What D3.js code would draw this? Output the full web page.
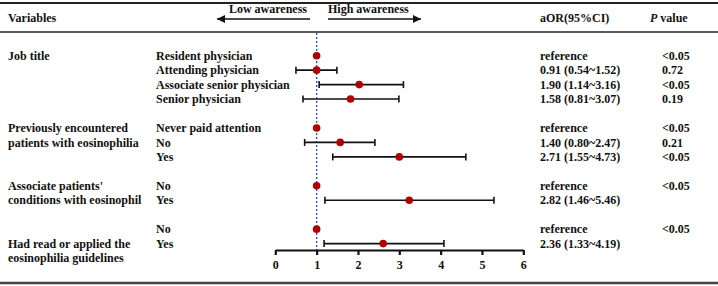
<!DOCTYPE html>
<html><head><meta charset="utf-8">
<script src="https://cdn.jsdelivr.net/npm/d3@7/dist/d3.min.js"></script>
<style>body{margin:0;background:#fff}svg text{font-family:"Liberation Serif","Times New Roman",serif;font-weight:bold;font-size:12px;fill:#111}</style>
</head><body><svg id="c" width="718" height="286"></svg>
<script>
// Data
const groupLabels = [
  {row:0, lines:["Job title"]},
  {row:5, lines:["Previously encountered","patients with eosinophilia"]},
  {row:9, lines:["Associate patients'","conditions with eosinophil"]},
  {row:13, lines:["Had read or applied the","eosinophilia guidelines"]}
];
const rowIndex = [0,1,2,3,5,6,7,9,10,12,13];
const subLabels = ["Resident physician","Attending physician","Associate senior physician","Senior physician",
  "Never paid attention","No","Yes","No","Yes","No","Yes"];
const estimate = [1.00,1.00,2.03,1.82,1.00,1.57,3.00,1.00,3.24,1.00,2.61];
const lower    = [null,0.50,1.06,0.67,null,0.71,1.39,null,1.20,null,1.18];
const upper    = [null,1.49,3.10,2.99,null,2.41,4.61,null,5.29,null,4.08];
const aorText = ["reference","0.91 (0.54~1.52)","1.90 (1.14~3.16)","1.58 (0.81~3.07)",
  "reference","1.40 (0.80~2.47)","2.71 (1.55~4.73)","reference","2.82 (1.46~5.46)","reference","2.36 (1.33~4.19)"];
const pText = ["<0.05","0.72","<0.05","0.19","<0.05","0.21","<0.05","<0.05","","<0.05",""];
const xTicks = [0,1,2,3,4,5,6];

const svg = d3.select("#c");
const x = d3.scaleLinear().domain([0,6]).range([275.3,523.3]);
const y = d3.scaleLinear().domain([0,13]).range([55.7,243.6]);
const axisY = 250;

// table lines
svg.append("line").attr("x1",0).attr("x2",718).attr("y1",3).attr("y2",3).attr("stroke","#222").attr("stroke-width",2);
svg.append("line").attr("x1",0).attr("x2",718).attr("y1",32).attr("y2",32).attr("stroke","#222").attr("stroke-width",1.5);
svg.append("line").attr("x1",0).attr("x2",718).attr("y1",283).attr("y2",283).attr("stroke","#444").attr("stroke-width",2.5);

// headers
const defs = svg.append("defs");
defs.append("marker").attr("id","ah").attr("viewBox","0 0 10 10").attr("refX",10).attr("refY",5)
  .attr("markerWidth",10).attr("markerHeight",8).attr("markerUnits","userSpaceOnUse").attr("orient","auto")
  .append("path").attr("d","M0,0L10,5L0,10Z").attr("fill","#111");
svg.append("text").attr("x",8).attr("y",22).text("Variables");
svg.append("text").attr("x",540).attr("y",22).text("aOR(95%CI)");
const ph = svg.append("text").attr("x",650).attr("y",22);
ph.append("tspan").attr("font-style","italic").text("P");
ph.append("tspan").text(" value");
svg.append("text").attr("x",307).attr("y",13).attr("text-anchor","end").text("Low awareness");
svg.append("text").attr("x",328).attr("y",13).text("High awareness");
svg.append("line").attr("x1",310).attr("x2",217).attr("y1",19).attr("y2",19).attr("stroke","#111").attr("stroke-width",1.5).attr("marker-end","url(#ah)");
svg.append("line").attr("x1",328).attr("x2",421).attr("y1",19).attr("y2",19).attr("stroke","#111").attr("stroke-width",1.5).attr("marker-end","url(#ah)");

// reference line
svg.append("line").attr("x1",x(1)).attr("x2",x(1)).attr("y1",33).attr("y2",axisY)
  .attr("stroke","#3344ee").attr("stroke-width",1.3).attr("stroke-dasharray","2,2");

// group labels
groupLabels.forEach(g=>{
  g.lines.forEach((l,i)=>{
    svg.append("text").attr("x",8).attr("y",y(g.row+i)).attr("dy","0.35em").text(l);
  });
});

const rows = rowIndex.map((r,i)=>({r, lab:subLabels[i], est:estimate[i], lo:lower[i], hi:upper[i], aor:aorText[i], p:pText[i]}));
const gr = svg.append("g");
gr.selectAll(".sub").data(rows).join("text").attr("x",156).attr("y",d=>y(d.r)).attr("dy","0.35em").text(d=>d.lab);
gr.selectAll(".aor").data(rows).join("text").attr("x",540).attr("y",d=>y(d.r)).attr("dy","0.35em").text(d=>d.aor);
gr.selectAll(".pv").data(rows).join("text").attr("x",662).attr("y",d=>y(d.r)).attr("dy","0.35em").text(d=>d.p);

const ci = rows.filter(d=>d.lo!=null);
gr.selectAll(".ci").data(ci).join("line").attr("x1",d=>x(d.lo)).attr("x2",d=>x(d.hi)).attr("y1",d=>y(d.r)).attr("y2",d=>y(d.r)).attr("stroke","#111").attr("stroke-width",1.6);
gr.selectAll(".cl").data(ci).join("line").attr("x1",d=>x(d.lo)).attr("x2",d=>x(d.lo)).attr("y1",d=>y(d.r)-3.5).attr("y2",d=>y(d.r)+3.5).attr("stroke","#111").attr("stroke-width",1.6);
gr.selectAll(".ch").data(ci).join("line").attr("x1",d=>x(d.hi)).attr("x2",d=>x(d.hi)).attr("y1",d=>y(d.r)-3.5).attr("y2",d=>y(d.r)+3.5).attr("stroke","#111").attr("stroke-width",1.6);
gr.selectAll(".pt").data(rows).join("circle").attr("cx",d=>x(d.est)).attr("cy",d=>y(d.r)).attr("r",3.8).attr("fill","#b00000");

// axis
const ax = svg.append("g").attr("transform",`translate(0,${axisY})`)
  .call(d3.axisBottom(x).tickValues(xTicks).tickFormat(d3.format("d")).tickSize(5).tickPadding(5).tickSizeOuter(0));
ax.select(".domain").attr("stroke","#111").attr("stroke-width",2.2);
ax.selectAll(".tick line").attr("stroke","#111").attr("stroke-width",2.2);
ax.selectAll(".tick text").attr("font-size","13px").attr("font-family","Liberation Serif, serif").attr("font-weight","bold").attr("fill","#111");
</script></body></html>
